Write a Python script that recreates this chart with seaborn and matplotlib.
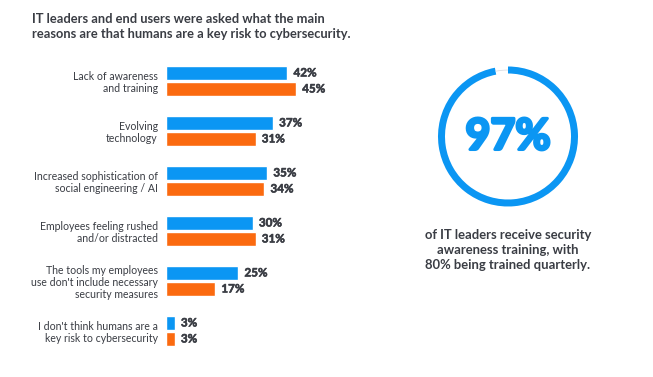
import pandas as pd
import numpy as np
import matplotlib.pyplot as plt
import matplotlib.patheffects as pe
import seaborn as sns

# Data
reasons = [
    "Lack of awareness\nand training",
    "Evolving\ntechnology",
    "Increased sophistication of\nsocial engineering / AI",
    "Employees feeling rushed\nand/or distracted",
    "The tools my employees\nuse don't include necessary\nsecurity measures",
    "I don't think humans are a\nkey risk to cybersecurity",
]
it_leaders = [42, 37, 35, 30, 25, 3]
end_users = [45, 31, 34, 31, 17, 3]
groups = ["IT leaders", "End users"]
trained_share = [97, 3]

title = ("IT leaders and end users were asked what the main\n"
         "reasons are that humans are a key risk to cybersecurity.")
big_number = "97%"
caption = ("of IT leaders receive security\n"
           "awareness training, with\n"
           "80% being trained quarterly.")

blue = "#0b96f3"
orange = "#fb6a10"
dark = "#3a3d44"

df = pd.DataFrame({
    "reason": reasons * 2,
    "group": [groups[0]] * len(reasons) + [groups[1]] * len(reasons),
    "value": it_leaders + end_users,
})

sns.set_theme(style="white")
plt.rcParams["font.family"] = ["Lato", "DejaVu Sans"]

fig = plt.figure(figsize=(6.53, 3.77), dpi=100)

# ---- bar chart ----
ax = fig.add_axes([166 / 653, 21 / 377, 231 / 653, 300 / 377])
sns.barplot(data=df, y="reason", x="value", hue="group", orient="h",
            palette=[blue, orange], saturation=1, width=0.64, gap=0.12,
            legend=False, ax=ax)
ax.set_xlim(0, 80)
ax.set_ylim(5.5, -0.5)
ax.set_xlabel("")
ax.set_ylabel("")
ax.set_xticks([])
sns.despine(ax=ax, left=True, bottom=True)
ax.tick_params(axis="y", length=0, pad=6)
for lab in ax.get_yticklabels():
    lab.set_fontsize(7.6)
    lab.set_color(dark)
    lab.set_linespacing(1.12)
for cont in ax.containers:
    txts = ax.bar_label(cont, fmt="%d%%", padding=4.5, fontsize=8.4,
                        fontweight="bold", color=dark)
    for t in txts:
        t.set_path_effects([pe.withStroke(linewidth=0.4, foreground=dark)])

fig.text(32 / 653, 1 - 13 / 377, title, ha="left", va="top",
         fontsize=9.3, fontweight="bold", color=dark, linespacing=1.25)

# ---- donut ----
ax2 = fig.add_axes([438 / 653, 1 - 206.5 / 377, 140 / 653, 140 / 377])
ax2.pie(trained_share, colors=[blue, "none"], startangle=90,
        counterclock=False, radius=1.0,
        wedgeprops=dict(width=0.1, edgecolor="none"))
ax2.pie(trained_share, colors=["none", "#d9dde4"], startangle=90,
        counterclock=False, radius=0.955,
        wedgeprops=dict(width=0.012, edgecolor="none"))
ax2.set_xlim(-1, 1)
ax2.set_ylim(-1, 1)
ax2.set_aspect("equal")
ax2.axis("off")
ax2.text(0, 0.0, big_number, ha="center", va="center", fontsize=31,
         fontweight="bold", color=blue,
         path_effects=[pe.withStroke(linewidth=2.2, foreground=blue)])

fig.text(508 / 653, 1 - 250 / 377, caption, ha="center", va="center",
         fontsize=9.4, fontweight="bold", color=dark, linespacing=1.3)

fig.savefig("out.png", dpi=100, facecolor="white")
